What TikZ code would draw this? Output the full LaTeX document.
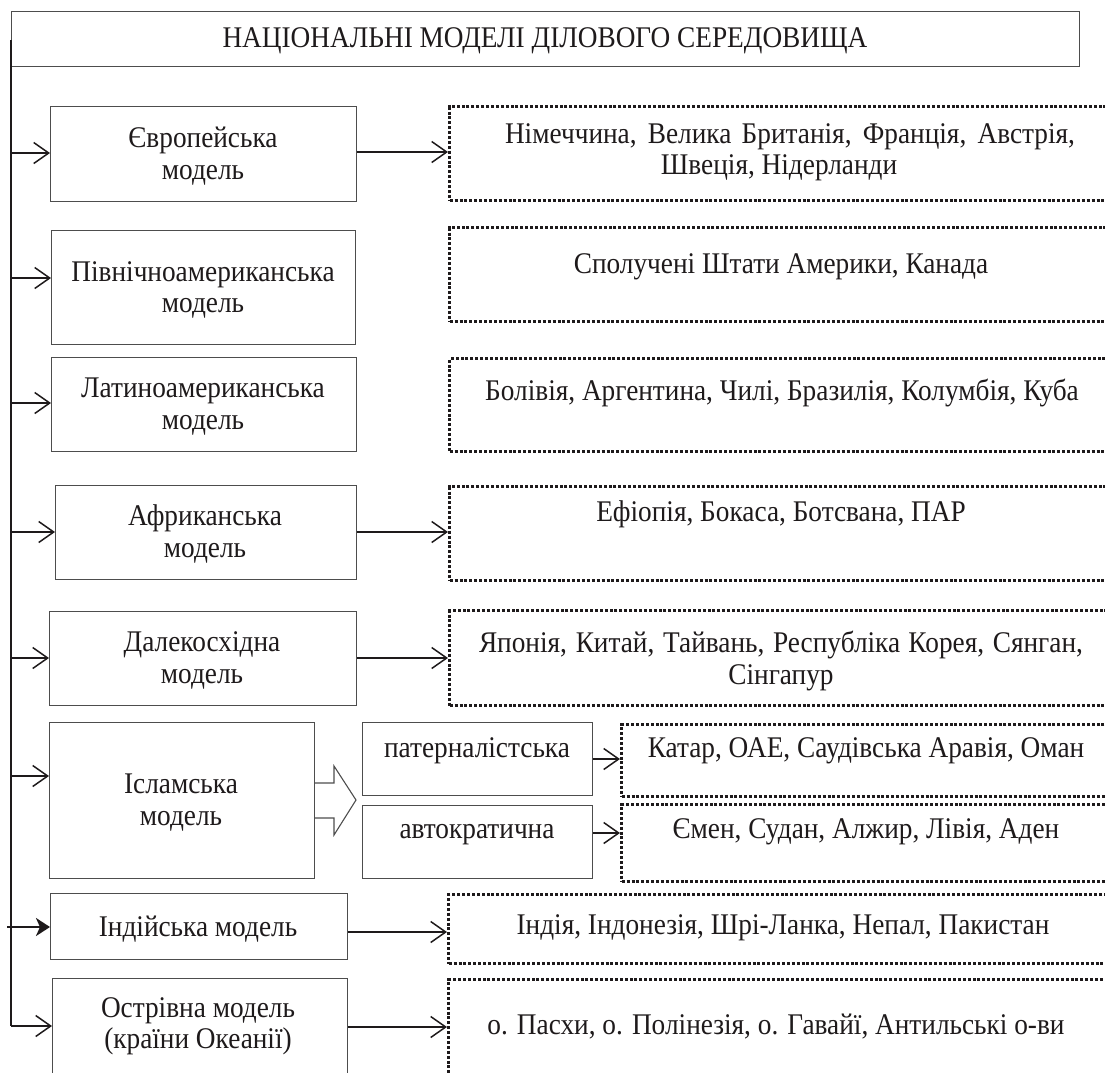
\documentclass[tikz,border=0pt]{standalone}
\usepackage{fontspec}
\setmainfont{Liberation Serif}[FakeStretch=0.91]
\usetikzlibrary{arrows.meta}
\definecolor{ink}{HTML}{1E1A1B}
\definecolor{frame}{HTML}{4D4D4D}
\newcommand\mkbox[6]{\node[#2, anchor=north west, inner sep=0pt, minimum width={#5-#3}, minimum height={#6-#4}] (#1) at (#3,#4) {};}
\newcommand\tx[4]{\node[txt] (#1) at (#2,#3) {#4};}
\begin{document}
\begin{tikzpicture}[x=1pt,y=-1pt,
  txt/.style={font=\fontsize{30}{32}\selectfont, text=ink, anchor=base, inner sep=0pt},
  box/.style={draw=frame, line width=1.1pt},
  dbox/.style={draw=ink, line width=3.4pt, dash pattern=on 3pt off 1.9pt},
  arr/.style={draw=ink, line width=1.5pt, -{Straight Barb[length=15pt,width=21pt,line width=1.5pt]}},
  barr/.style={draw=ink, line width=2.6pt, -{Stealth[length=14pt,width=18pt,inset=4pt]}},
]
\useasboundingbox (0,0) rectangle (1105,1072);
\begin{scope}
\clip (0,0) rectangle (1105,1072);
% title
\mkbox{title}{box}{11}{11}{1079}{66}
\tx{ttitle}{545}{47}{НАЦІОНАЛЬНІ МОДЕЛІ ДІЛОВОГО СЕРЕДОВИЩА}
% left boxes
\mkbox{b1}{box}{50}{106}{356}{201}
\mkbox{b2}{box}{51}{230}{355}{344}
\mkbox{b3}{box}{51}{357}{356}{451}
\mkbox{b4}{box}{55}{485}{356}{579}
\mkbox{b5}{box}{49}{611}{356}{705}
\mkbox{b6}{box}{49}{722}{314}{878}
\mkbox{b7}{box}{50}{893}{347}{959}
\mkbox{b8}{box}{52}{978}{347}{1090}
\mkbox{s1}{box}{362}{722}{592}{795}
\mkbox{s2}{box}{362}{805}{592}{878}
% dotted boxes
\mkbox{d1}{dbox}{448}{105}{1114}{199}
\mkbox{d2}{dbox}{448}{226}{1114}{320}
\mkbox{d3}{dbox}{448}{357}{1114}{450}
\mkbox{d4}{dbox}{448}{485}{1114}{579}
\mkbox{d5}{dbox}{448}{609}{1114}{704}
\mkbox{d6}{dbox}{620}{723}{1112}{795}
\mkbox{d7}{dbox}{620}{803}{1112}{880}
\mkbox{d8}{dbox}{447}{893}{1114}{962}
\mkbox{d9}{dbox}{447}{978}{1114}{1092}
% texts
\tx{t1a}{203}{147}{Європейська}
\tx{t1b}{203}{179}{модель}
\tx{t2a}{203}{281}{Північноамериканська}
\tx{t2b}{203}{312}{модель}
\tx{t3a}{203}{397}{Латиноамериканська}
\tx{t3b}{203}{429}{модель}
\tx{t4a}{205}{525}{Африканська}
\tx{t4b}{205}{557}{модель}
\tx{t5a}{202}{651}{Далекосхідна}
\tx{t5b}{202}{683}{модель}
\tx{t6a}{181}{793}{Ісламська}
\tx{t6b}{181}{825}{модель}
\tx{t7}{198}{936}{Індійська модель}
\tx{t8a}{198}{1017}{Острівна модель}
\tx{t8b}{198}{1048}{(країни Океанії)}
\tx{ts1}{477}{757}{патерналістська}
\tx{ts2}{477}{838}{автократична}
\tx{u1a}{790}{143}{\makebox[570pt][s]{Німеччина, Велика Британія, Франція, Австрія,}}
\tx{u1b}{779}{174}{Швеція, Нідерланди}
\tx{u2}{781}{273}{Сполучені Штати Америки, Канада}
\tx{u3}{782}{400}{Болівія, Аргентина, Чилі, Бразилія, Колумбія, Куба}
\tx{u4}{781}{521}{Ефіопія, Бокаса, Ботсвана, ПАР}
\tx{u5a}{781}{652}{\makebox[604pt][s]{Японія, Китай, Тайвань, Республіка Корея, Сянган,}}
\tx{u5b}{781}{684}{Сінгапур}
\tx{u6}{866}{757}{Катар, ОАЕ, Саудівська Аравія, Оман}
\tx{u7}{866}{838}{Ємен, Судан, Алжир, Лівія, Аден}
\tx{u8}{783}{934}{Індія, Індонезія, Шрі-Ланка, Непал, Пакистан}
\tx{u9}{776}{1034}{о. Пасхи, о. Полінезія, о. Гавайї, Антильські о-ви}
% trunk
\coordinate (top) at (11,40);
\coordinate (a1) at (11,153);
\coordinate (a2) at (11,278);
\coordinate (a3) at (11,403);
\coordinate (a4) at (11,532);
\coordinate (a5) at (11,658);
\coordinate (a6) at (11,776);
\coordinate (a7) at (7,927);
\coordinate (a8) at (11,1026);
\draw[ink, line width=1.5pt] (top) -- (a8);
\draw[arr] (a1) -- (a1 -| b1.west);
\draw[arr] (a2) -- (a2 -| b2.west);
\draw[arr] (a3) -- (a3 -| b3.west);
\draw[arr] (a4) -- (a4 -| b4.west);
\draw[arr] (a5) -- (a5 -| b5.west);
\draw[arr] (a6) -- (a6 -| b6.west);
\draw[barr] (a7) -- (a7 -| b7.west);
\draw[arr] (a8) -- (a8 -| b8.west);
% right arrows
\coordinate (r1) at (0,152);
\coordinate (r4) at (0,532);
\coordinate (r5) at (0,658);
\coordinate (r6) at (0,759);
\coordinate (r7) at (0,833);
\coordinate (r8) at (0,932);
\coordinate (r9) at (0,1027);
\draw[arr] (b1.east |- r1) -- (d1.west |- r1);
\draw[arr] (b4.east |- r4) -- (d4.west |- r4);
\draw[arr] (b5.east |- r5) -- (d5.west |- r5);
\draw[arr] (s1.east |- r6) -- (d6.west |- r6);
\draw[arr] (s2.east |- r7) -- (d7.west |- r7);
\draw[arr] (b7.east |- r8) -- (d8.west |- r8);
\draw[arr] (b8.east |- r9) -- (d9.west |- r9);
% block arrow
\draw[frame, line width=1.1pt, line join=miter] (314,783) -- (334,783) -- (334,766) -- (356,800) -- (334,835) -- (334,818) -- (314,818);
\end{scope}
\end{tikzpicture}
\end{document}
